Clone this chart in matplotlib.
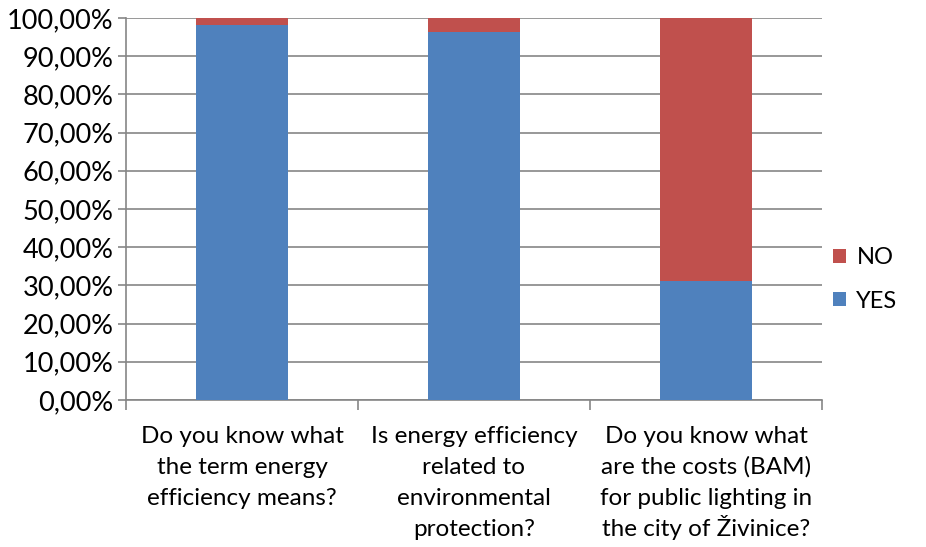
import numpy as np
import matplotlib.pyplot as plt
from matplotlib.ticker import FuncFormatter

categories = ['Do you know what\nthe term energy\nefficiency means?',
              'Is energy efficiency\nrelated to\nenvironmental\nprotection?',
              'Do you know what\nare the costs (BAM)\nfor public lighting in\nthe city of Živinice?']
yes = [98.2, 96.3, 31.2]
no = [100 - v for v in yes]

plt.rcParams['font.family'] = ['Lato', 'DejaVu Sans']

fig = plt.figure(figsize=(9.26, 5.47), dpi=100)
ax = fig.add_axes([126 / 926, 1 - 400 / 547, (822 - 126) / 926, 382 / 547])

x = np.arange(len(categories))
ax.bar(x, yes, width=0.4, color='#4f81bd', label='YES', zorder=3)
ax.bar(x, no, width=0.4, bottom=yes, color='#c0504d', label='NO', zorder=3)

ax.set_xlim(-0.5, len(categories) - 0.5)
ax.set_ylim(0, 100)
ax.set_yticks(np.arange(0, 101, 10))
ax.yaxis.set_major_formatter(FuncFormatter(lambda v, p: f'{v:.2f}%'.replace('.', ',')))
ax.grid(axis='y', color='#868686', linewidth=1.2, zorder=0)

# category labels, one line at a time so the spacing stays even
ax.set_xticks(x)
ax.set_xticklabels([])
ax.tick_params(axis='x', length=0)
for xi, label in zip(x, categories):
    for i, line in enumerate(label.split('\n')):
        ax.annotate(line, xy=(xi, 0), xycoords=('data', 'axes fraction'),
                    xytext=(0, -31 - 22.3 * i), textcoords='offset points',
                    ha='center', va='baseline', fontsize=17.5, annotation_clip=False)

ax.set_xticks(np.arange(-0.5, len(categories), 1), minor=True)
ax.tick_params(axis='x', which='minor', length=7, color='#868686', width=1.2)
ax.tick_params(axis='y', length=6, color='#868686', width=1.2, labelsize=19.5, pad=3)

for s in ['top', 'right']:
    ax.spines[s].set_visible(False)
for s in ['left', 'bottom']:
    ax.spines[s].set_color('#868686')
    ax.spines[s].set_linewidth(1.2)

handles, labels = ax.get_legend_handles_labels()
ax.legend(handles[::-1], labels[::-1], loc='center left', bbox_to_anchor=(0.985, 0.316),
          frameon=False, fontsize=17, handlelength=0.55, handleheight=0.55,
          labelspacing=0.95, handletextpad=0.45)

fig.savefig('out.png', dpi=100)
